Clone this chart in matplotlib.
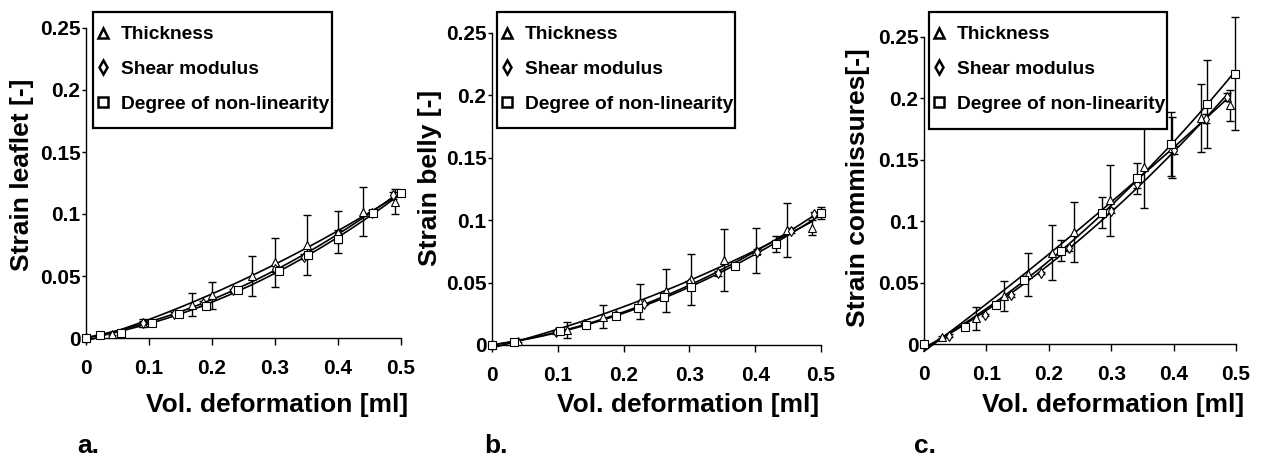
import numpy as np
import matplotlib
matplotlib.use("Agg")
import matplotlib.pyplot as plt
from matplotlib.lines import Line2D
from matplotlib.patches import Rectangle

plt.rcParams['font.family'] = ['Liberation Sans', 'DejaVu Sans']
plt.rcParams['font.weight'] = 'bold'

series_names = ["Thickness", "Shear modulus", "Degree of non-linearity"]
series_markers = ["^", "d", "s"]
panel_letters = ["a.", "b.", "c."]
y_labels = ["Strain leaflet [-]", "Strain belly [-]", "Strain commissures[-]"]
x_label = "Vol. deformation [ml]"
x_ticks = [0, 0.1, 0.2, 0.3, 0.4, 0.5]
y_ticks = [0, 0.05, 0.1, 0.15, 0.2, 0.25]
y_tick_labels = ["0", "0.05", "0.1", "0.15", "0.2", "0.25"]

# panel a: leaflet
thick_x_a = [0, 0.042, 0.091, 0.169, 0.2, 0.264, 0.3, 0.35, 0.4, 0.44, 0.49]
thick_y_a = [0, 0.0035, 0.012, 0.027, 0.0345, 0.05, 0.061, 0.075, 0.0857, 0.102, 0.11]
thick_e_a = [0, 0.001, 0.003, 0.009, 0.011, 0.016, 0.020, 0.024, 0.017, 0.020, 0.010]
shear_x_a = [0, 0.09, 0.14, 0.186, 0.234, 0.3, 0.346, 0.4, 0.454, 0.488]
shear_y_a = [0, 0.012, 0.0197, 0.028, 0.0385, 0.056, 0.0655, 0.084, 0.101, 0.115]
shear_e_a = [0, 0.002, 0.001, 0.002, 0.001, 0.003, 0.002, 0.003, 0.002, 0.003]
nonlin_x_a = [0, 0.022, 0.055, 0.104, 0.147, 0.19, 0.242, 0.306, 0.353, 0.4, 0.456, 0.5]
nonlin_y_a = [0, 0.0027, 0.0043, 0.0124, 0.0197, 0.026, 0.039, 0.054, 0.067, 0.080, 0.1005, 0.1167]
nonlin_e_a = [0, 0, 0, 0.001, 0.001, 0.001, 0.001, 0.002, 0.002, 0.003, 0.002, 0.002]

# panel b: belly
thick_x_b = [0, 0.04, 0.114, 0.168, 0.225, 0.264, 0.302, 0.352, 0.401, 0.448, 0.486]
thick_y_b = [0, 0.0035, 0.012, 0.0227, 0.0348, 0.0436, 0.0527, 0.068, 0.0757, 0.092, 0.094]
thick_e_b = [0, 0.001, 0.0067, 0.0094, 0.0137, 0.017, 0.0203, 0.0247, 0.0183, 0.0218, 0.0059]
shear_x_b = [0, 0.098, 0.14, 0.189, 0.231, 0.3, 0.343, 0.402, 0.455, 0.489]
shear_y_b = [0, 0.0102, 0.0166, 0.024, 0.0329, 0.0495, 0.0575, 0.0749, 0.0914, 0.1048]
shear_e_b = [0, 0.001, 0.001, 0.001, 0.001, 0.002, 0.002, 0.002, 0.002, 0.002]
nonlin_x_b = [0, 0.034, 0.104, 0.143, 0.188, 0.222, 0.262, 0.302, 0.37, 0.431, 0.5]
nonlin_y_b = [0, 0.0021, 0.0112, 0.016, 0.0235, 0.03, 0.0388, 0.0463, 0.0636, 0.0807, 0.1056]
nonlin_e_b = [0, 0, 0.001, 0.001, 0.001, 0.002, 0.003, 0.002, 0.002, 0.0065, 0.005]

# panel c: commissures
thick_x_c = [0, 0.029, 0.083, 0.129, 0.166, 0.205, 0.241, 0.298, 0.352, 0.397, 0.444, 0.49]
thick_y_c = [0, 0.0057, 0.021, 0.039, 0.0566, 0.0745, 0.091, 0.117, 0.1444, 0.160, 0.184, 0.1945]
thick_e_c = [0, 0.001, 0.0095, 0.0125, 0.0173, 0.0226, 0.0244, 0.029, 0.034, 0.025, 0.0274, 0.0127]
shear_x_c = [0, 0.04, 0.098, 0.139, 0.187, 0.233, 0.299, 0.341, 0.4, 0.452, 0.486]
shear_y_c = [0, 0.0068, 0.0238, 0.0395, 0.058, 0.078, 0.1086, 0.13, 0.158, 0.1836, 0.2012]
shear_e_c = [0, 0.001, 0.001, 0.001, 0.001, 0.002, 0.002, 0.003, 0.003, 0.004, 0.003]
nonlin_x_c = [0, 0.065, 0.116, 0.16, 0.22, 0.286, 0.342, 0.396, 0.453, 0.498]
nonlin_y_c = [0, 0.0135, 0.032, 0.0523, 0.076, 0.107, 0.135, 0.163, 0.1953, 0.22]
nonlin_e_c = [0, 0.001, 0.002, 0.003, 0.0088, 0.0125, 0.0125, 0.026, 0.036, 0.046]

panels = [
    [(thick_x_a, thick_y_a, thick_e_a), (shear_x_a, shear_y_a, shear_e_a), (nonlin_x_a, nonlin_y_a, nonlin_e_a)],
    [(thick_x_b, thick_y_b, thick_e_b), (shear_x_b, shear_y_b, shear_e_b), (nonlin_x_b, nonlin_y_b, nonlin_e_b)],
    [(thick_x_c, thick_y_c, thick_e_c), (shear_x_c, shear_y_c, shear_e_c), (nonlin_x_c, nonlin_y_c, nonlin_e_c)],
]

W, H = 1263, 458
fig = plt.figure(figsize=(W / 100, H / 100), dpi=100)

# axes boxes in pixels: left, right, top, bottom
boxes = [(86, 401, 28, 338), (492, 821, 33, 345), (924, 1236, 37, 344)]
legend_frames = [(93, 332, 12, 128), (497, 735, 12, 128), (929, 1167, 12, 129)]
ylabel_pos = [(-0.203, 0.526), (-0.188, 0.535), (-0.212, 0.508)]
xlabel_pos = [(0.606, -0.216), (0.596, -0.192), (0.606, -0.199)]
letter_x = [77, 484, 914]

for i, series in enumerate(panels):
    l, r, t, b = boxes[i]
    ax = fig.add_axes([l / W, (H - b) / H, (r - l) / W, (b - t) / H])

    for (x, y, e), mk in zip(series, series_markers):
        x = np.array(x)
        y = np.array(y)
        # quadratic fit curve, like the original software draws
        coef = np.polyfit(x, y, 2)
        xs = np.linspace(0, x.max(), 100)
        ax.plot(xs, np.polyval(coef, xs), color='black', lw=1.2, zorder=2, clip_on=False)
        ax.errorbar(x, y, yerr=e, fmt='none', ecolor='black', elinewidth=1.0,
                    capsize=3, capthick=1.0, zorder=3, clip_on=False)
        ax.plot(x, y, ls='none', marker=mk, ms=5.5, mfc='white', mec='black',
                mew=0.8, zorder=4, clip_on=False)

    ax.set_xlim(0, 0.5)
    ax.set_ylim(0, 0.25)
    for s in ['top', 'right']:
        ax.spines[s].set_visible(False)
    for s in ['left', 'bottom']:
        ax.spines[s].set_linewidth(1.0)
    ax.set_xticks(x_ticks)
    ax.set_xticklabels([f"{v:g}" for v in x_ticks])
    ax.set_yticks(y_ticks)
    ax.set_yticklabels(y_tick_labels)
    ax.tick_params(axis='x', length=5, width=1.0, pad=10, labelsize=15)
    ax.tick_params(axis='y', length=3, width=1.0, pad=1, labelsize=15)

    ax.set_xlabel(x_label, fontsize=19, fontweight='bold')
    ax.xaxis.label.set_va('center')
    ax.xaxis.set_label_coords(*xlabel_pos[i])
    ax.set_ylabel(y_labels[i], fontsize=19, fontweight='bold')
    ax.yaxis.label.set_va('center')
    ax.yaxis.set_label_coords(*ylabel_pos[i])

    # legend frame drawn as a figure rectangle, legend itself frameless
    fl, fr, ft, fb = legend_frames[i]
    fig.add_artist(Rectangle((fl / W, (H - fb) / H), (fr - fl) / W, (fb - ft) / H,
                             transform=fig.transFigure, facecolor='white',
                             edgecolor='black', linewidth=1.6, zorder=9))
    handles = [Line2D([], [], ls='none', marker=mk, ms=7, mfc='white', mec='black', mew=1.8)
               for mk in series_markers]
    leg = fig.legend(handles, series_names, loc='upper left',
                     bbox_to_anchor=((fl + 8) / W, 1 - (ft + 14) / H), borderaxespad=0,
                     prop={'weight': 'bold', 'size': 13.8},
                     frameon=False, handlelength=0.2, handletextpad=0.85,
                     borderpad=0, labelspacing=0.9)
    leg.set_zorder(10)

    fig.text(letter_x[i] / W, 1 - 453 / H, panel_letters[i], fontsize=19,
             fontweight='bold', ha='left', va='baseline')

fig.savefig("out.png", dpi=100)
